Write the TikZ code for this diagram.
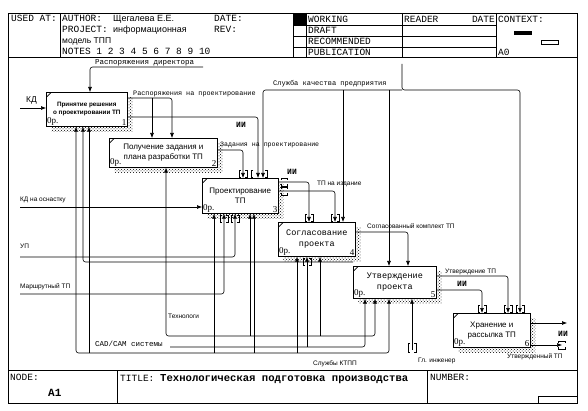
\documentclass[tikz,border=0pt]{standalone}
\usepackage{fontspec}
\setmainfont{Liberation Serif}
\setsansfont{Liberation Sans}
\setmonofont{Liberation Mono}
\usetikzlibrary{arrows.meta,patterns,shadows}

% tunnel brackets round arrow tips
\newcommand{\vtun}[4]{\draw (#1+2,#3) -- (#1,#3) -- (#1,#4) -- (#1+2,#4) (#2-2,#3) -- (#2,#3) -- (#2,#4) -- (#2-2,#4);}
\newcommand{\htun}[3]{\draw (#1,#3-2) -- (#1,#3-4) -- (#2,#3-4) -- (#2,#3-2) (#1,#3+2) -- (#1,#3+4) -- (#2,#3+4) -- (#2,#3+2);}

\begin{document}
\begin{tikzpicture}[x=1pt,y=-1pt,>={Latex[length=5pt,width=4pt]},
    frame/.style={line width=0.9pt},
    hdr/.style={font=\ttfamily\fontsize{9.5}{10}\selectfont, anchor=base west, inner sep=0pt},
    box/.style={draw, semithick, fill=white, anchor=north west, align=center, inner sep=1pt,
      general shadow={shadow xshift=5pt, shadow yshift=-5pt, pattern=crosshatch dots},
      path picture={\draw ([yshift=-5pt]path picture bounding box.north west)
                      -- ([xshift=5pt]path picture bounding box.north west);}},
    nr/.style={label={[zero,anchor=south west]south west:0р.},
               label={[zero,anchor=south east]south east:#1}},
    zero/.style={font=\rmfamily\fontsize{9}{9}\selectfont, inner sep=1pt},
    flow/.style={semithick, rounded corners=2.5pt},
    lbl/.style={font=\sffamily\fontsize{6.5}{7}\selectfont, anchor=base west, inner sep=0pt},
    ulbl/.style={font=\ttfamily\fontsize{6.8}{7}\selectfont, anchor=base west, inner sep=0pt},
    ii/.style={font=\ttfamily\bfseries\fontsize{8}{8}\selectfont, anchor=base west, inner sep=0pt}]
    \useasboundingbox (0,0) rectangle (588,411);

    % form: header, frame, footer
    \draw[frame] (8,13) rectangle (577,403);
    \draw[frame] (8,57) -- (577,57) (8,370) -- (577,370);
    \draw (60,13) -- (60,57) (293,13) -- (293,57) (306,13) -- (306,57)
          (402,13) -- (402,57) (496,13) -- (496,57)
          (293,25) -- (496,25) (293,36) -- (496,36) (293,47) -- (496,47);
    \fill (293,13) rectangle (306,25);
    \fill (514,31) rectangle (532,35);
    \draw (541,40) rectangle (558,44);
    \draw (117,370) -- (117,403) (427,370) -- (427,403);
    \draw (538,396) rectangle (577,403);
    \node[hdr] (usedat) at (11,22) {USED AT:};
    \node[hdr] (author) at (62,22) {AUTHOR:};
    \node[hdr, font=\sffamily\fontsize{9}{10}\selectfont] (authname) at (113,22) {Щегалева Е.Е.};
    \node[hdr] (project) at (62,33) {PROJECT:};
    \node[hdr, font=\sffamily\fontsize{9}{10}\selectfont] (projname) at (113,33) {информационная};
    \node[hdr, font=\sffamily\fontsize{8.5}{10}\selectfont] (projname2) at (62,44) {модель ТПП};
    \node[hdr] (notes) at (62,55) {NOTES 1 2 3 4 5 6 7 8 9 10};
    \node[hdr] (date) at (214,22) {DATE:};
    \node[hdr] (rev) at (214,33) {REV:};
    \node[hdr] (working) at (308,23) {WORKING};
    \node[hdr] (draft) at (308,34) {DRAFT};
    \node[hdr] (recom) at (308,45) {RECOMMENDED};
    \node[hdr] (publ) at (308,55.5) {PUBLICATION};
    \node[hdr] (reader) at (404,23) {READER};
    \node[hdr, anchor=base east] (rdate) at (495,23) {DATE};
    \node[hdr] (context) at (498,23) {CONTEXT:};
    \node[hdr] (ctxnode) at (498,56) {A0};
    \node[hdr] (node) at (10,380) {NODE:};
    \node[hdr, font=\ttfamily\bfseries\fontsize{11}{12}\selectfont] (nodeid) at (48,396) {A1};
    \node[hdr] (title) at (120,381) {TITLE:};
    \node[hdr, font=\ttfamily\bfseries\fontsize{10.6}{12}\selectfont] (titletxt) at (160,381)
        {Технологическая подготовка производства};
    \node[hdr] (number) at (430,380) {NUMBER:};

    % activities
    \node[box, nr=1, minimum width=81pt, minimum height=34pt,
          font=\sffamily\bfseries\fontsize{6.3}{8}\selectfont] (b1) at (46,92)
        {Принятие решения\\о проектировании ТП};
    \node[box, nr=2, minimum width=108pt, minimum height=29pt,
          font=\sffamily\fontsize{8}{9.5}\selectfont] (b2) at (109,138)
        {Получение задания и\\плана разработки ТП};
    \node[box, nr=3, minimum width=76pt, minimum height=35pt,
          font=\sffamily\fontsize{8}{10}\selectfont] (b3) at (202,178)
        {Проектирование\\ТП};
    \node[box, nr=4, minimum width=77pt, minimum height=34pt,
          font=\ttfamily\fontsize{8.5}{11}\selectfont] (b4) at (278,222)
        {Согласование\\проекта};
    \node[box, nr=5, minimum width=83pt, minimum height=32pt,
          font=\ttfamily\fontsize{8.5}{11}\selectfont] (b5) at (353,266)
        {Утверждение\\проекта};
    \node[box, nr=6, minimum width=77pt, minimum height=34pt,
          font=\sffamily\fontsize{8}{10}\selectfont] (b6) at (453,313)
        {Хранение и\\рассылка ТП};

    % free ends
    \coordinate (kdin) at (20,108);
    \coordinate (rdir) at (203,67);
    \coordinate (skach) at (402,64);
    \coordinate (kdosn) at (20,207);
    \coordinate (upin) at (20,257);
    \coordinate (mtp) at (20,294);
    \coordinate (cad) at (170,347);
    \coordinate (gling) at (412,350);
    \coordinate (iiout) at (567,323);
    \coordinate (utvout) at (562,345);

    % inputs and controls
    \draw[flow,->] (kdin) -- (kdin -| b1.west);
    \draw[flow,->] (rdir) -- (90,67) -- (90,0 |- b1.north);
    \draw[flow,->] (b1.east |- 0,98) -- (172,98) -- (172,0 |- b2.north);
    \draw[flow,->] (152,98) -- (152,0 |- b2.north);
    \draw[flow,->] (b1.east |- 0,117) -- (258,117) -- (258,0 |- b3.north);
    \draw[flow,->] (b2.east |- 0,150) -- (243,150) -- (243,0 |- b3.north);
    \draw[flow,->] (skach) -- (402,90) -- (520,90) -- (520,0 |- b6.north);
    \draw[flow,->] (402,90) -- (263,90) -- (263,0 |- b3.north);
    \draw[flow,->] (343,90) -- (343,0 |- b4.north);
    \draw[flow,->] (389,90) -- (389,0 |- b5.north);
    \draw[flow,->] (b3.east |- 0,182) -- (309,182) -- (309,0 |- b4.north);
    \draw[flow,->] (b3.east |- 0,191) -- (335,191) -- (335,0 |- b4.north);
    \draw[flow,->] (kdosn) -- (kdosn -| b3.west);
    \draw[flow,->] (b4.east |- 0,232) -- (408,232) -- (408,0 |- b5.north);
    \draw[flow,->] (b5.east |- 0,276) -- (508,276) -- (508,0 |- b6.north);
    \draw[flow,->] (b5.east |- 0,290) -- (482,290) -- (482,0 |- b6.north);
    \draw[flow,->] (b6.east |- iiout) -- (iiout);
    \draw[flow,->] (b6.east |- utvout) -- (utvout);

    % mechanisms
    \draw[flow,->] (upin) -- (235,257) -- (235,0 |- b3.south);
    \draw[flow,->] (b5.west |- 0,262) -- (83,262) -- (83,0 |- b1.south);
    \draw[flow,->] (mtp) -- (224,294) -- (224,0 |- b3.south);
    \draw[flow,<->] (166,0 |- b2.south) -- (166,336) -- (375,336) -- (375,0 |- b5.south);
    \draw[flow,->] (250,336) -- (250,0 |- b3.south);
    \draw[flow,->] (320,336) -- (320,0 |- b4.south);
    \draw[flow,->] (cad) -- (365,347) -- (365,0 |- b5.south);
    \draw[flow,->] (307,347) -- (307,0 |- b4.south);
    \draw[flow,<->] (76,0 |- b1.south) -- (76,353) -- (389,353) -- (389,0 |- b5.south);
    \foreach \x/\b in {89/b1, 214/b3, 254/b3, 297/b4}
        \draw[flow,->] (\x,353) -- (\x,0 |- \b.south);
    \draw[flow,->] (gling) -- (gling |- b5.south);

    % tunnels
    \vtun{239}{247}{170}{177}
    \vtun{251}{267}{170}{177}
    \vtun{305}{313}{214}{221}
    \vtun{331}{339}{214}{221}
    \vtun{478}{486}{305}{312}
    \vtun{504}{512}{305}{312}
    \vtun{516}{524}{305}{312}
    \vtun{220}{228}{215}{222}
    \vtun{231}{239}{215}{222}
    \vtun{303}{311}{258}{265}
    \vtun{408}{416}{343}{352}
    \htun{281}{287}{182}
    \htun{281}{287}{191}
    \htun{558}{565}{345}

    % arrow labels
    \node[lbl, font=\sffamily\fontsize{8.5}{9}\selectfont] (lkd) at (26,103) {КД};
    \node[ulbl, font=\ttfamily\fontsize{7.5}{8}\selectfont] (lrdir) at (95,65) {Распоряжения директора};
    \node[ulbl] (lrproj) at (133,96) {Распоряжения на проектирование};
    \node[ii] (lii1) at (236,128) {ИИ};
    \node[ulbl, font=\ttfamily\fontsize{6.6}{7}\selectfont] (lzad) at (220,147) {Задания на проектирование};
    \node[ulbl, font=\ttfamily\fontsize{7}{7}\selectfont] (lskach) at (273,86) {Служба качества предприятия};
    \node[ii] (lii3) at (287,175) {ИИ};
    \node[lbl] (ltpizd) at (317,186) {ТП на издание};
    \node[lbl] (lkdosn) at (20,202) {КД на оснастку};
    \node[lbl] (lsogl) at (367,229) {Согласованный комплект ТП};
    \node[lbl] (lup) at (20,249) {УП};
    \node[lbl] (lmtp) at (20,288) {Маршрутный ТП};
    \node[lbl] (lutv) at (445,273) {Утверждение ТП};
    \node[ii] (lii5) at (457,287) {ИИ};
    \node[ii] (lii6) at (558,336) {ИИ};
    \node[lbl] (lutvtp) at (507,358) {Утвержденный ТП};
    \node[lbl] (ltechn) at (168,318) {Технологи};
    \node[ulbl, font=\ttfamily\fontsize{7.5}{8}\selectfont] (lcad) at (95,346) {CAD/CAM системы};
    \node[lbl] (lktpp) at (313,365) {Службы КТПП};
    \node[lbl] (lgling) at (418,362) {Гл. инженер};
\end{tikzpicture}
\end{document}
